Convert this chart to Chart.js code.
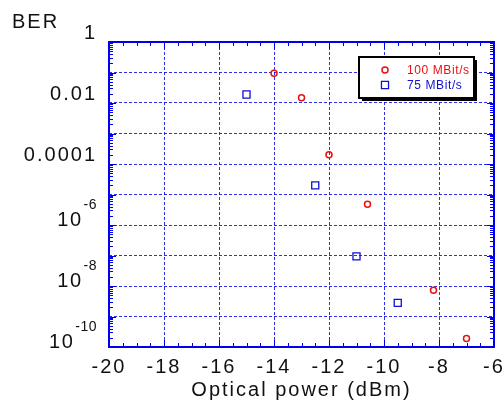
<!DOCTYPE html>
<html><head><meta charset="utf-8">
<script src="https://cdn.jsdelivr.net/npm/chart.js@4"></script>
<style>html,body{margin:0;padding:0;background:#fff}</style>
</head><body>
<canvas id="c" width="502" height="405"></canvas>
<script>
const seriesNames = ['100 MBit/s', '75 MBit/s'];
const power100 = [-14, -13, -12, -10.6, -8.2, -7];
const ber100 = [0.095, 0.015, 2.0e-4, 4.8e-6, 7.2e-9, 1.9e-10];
const power75 = [-15, -12.5, -11, -9.5];
const ber75 = [0.019, 2.0e-5, 9.4e-8, 2.8e-9];
const yDecades = [1, 0.1, 0.01, 1e-3, 1e-4, 1e-5, 1e-6, 1e-7, 1e-8, 1e-9, 1e-10];
const yTickLabels = {'0': '1', '-2': '0.01', '-4': '0.0001'};
const yPowerLabels = {'-6': ['10', '-6'], '-8': ['10', '-8'], '-10': ['10', '-10']};
const yAxisTitle = 'BER';
const xAxisTitle = 'Optical power (dBm)';

const FONT = "'Liberation Sans', Arial, sans-serif";
const AXIS_BLUE = '#0000ee';

const framePlugin = {
  id: 'frame',
  beforeDraw(chart) {
    chart.ctx.letterSpacing = '2px';
  },
  afterDraw(chart) {
    const {ctx, chartArea: a, scales: {x, y}} = chart;
    ctx.save();
    ctx.strokeStyle = AXIS_BLUE;
    ctx.lineWidth = 1;
    ctx.beginPath();
    for (let v = x.min; v <= x.max + 1e-9; v += 0.5) {
      const px = Math.round(x.getPixelForValue(v)) + 0.5;
      const major = Math.abs(v / 2 - Math.round(v / 2)) < 1e-9;
      const len = major ? 7 : 4;
      ctx.moveTo(px, a.bottom); ctx.lineTo(px, a.bottom - len);
      ctx.moveTo(px, a.top); ctx.lineTo(px, a.top + len);
    }
    for (let e = -10; e < 0; e++) {
      for (let m = 1; m < 10; m++) {
        const py = Math.round(y.getPixelForValue(m * Math.pow(10, e))) + 0.5;
        const len = m === 1 ? 7 : 4;
        ctx.moveTo(a.left, py); ctx.lineTo(a.left + len, py);
        ctx.moveTo(a.right, py); ctx.lineTo(a.right - len, py);
      }
    }
    ctx.stroke();
    ctx.lineWidth = 2;
    ctx.strokeRect(a.left, a.top, a.right - a.left, a.bottom - a.top);

    // power-of-ten tick labels with superscript exponents
    ctx.fillStyle = '#111';
    ctx.textAlign = 'right';
    ctx.textBaseline = 'alphabetic';
    y.ticks.forEach(t => {
      const k = String(Math.round(Math.log10(t.value)));
      const lab = yPowerLabels[k];
      if (!lab) return;
      const py = y.getPixelForValue(t.value);
      const rx = a.left - 12;
      ctx.letterSpacing = '0.5px';
      ctx.font = '14px ' + FONT;
      ctx.fillText(lab[1], rx, py - 16);
      const ew = ctx.measureText(lab[1]).width;
      ctx.letterSpacing = '1.5px';
      ctx.font = '20px ' + FONT;
      ctx.fillText(lab[0], rx - ew - 1, py + 1);
    });

    // "BER" label
    ctx.letterSpacing = '2px';
    ctx.fillStyle = '#111';
    ctx.font = '20px ' + FONT;
    ctx.textAlign = 'left';
    ctx.textBaseline = 'alphabetic';
    ctx.fillText(yAxisTitle, 12, 28);

    // legend box
    const lx = a.right - 135, ly = a.top + 15, lw = 115, lh = 41;
    ctx.fillStyle = '#000';
    ctx.fillRect(lx + 3, ly + 3, lw, lh);
    ctx.fillStyle = '#fff';
    ctx.fillRect(lx, ly, lw, lh);
    ctx.strokeStyle = '#000';
    ctx.lineWidth = 2;
    ctx.strokeRect(lx, ly, lw, lh);
    ctx.font = '12px ' + FONT;
    ctx.letterSpacing = '0.6px';
    ctx.textBaseline = 'middle';
    chart.data.datasets.forEach((ds, i) => {
      const cy = ly + 13 + i * 15;
      const cx = lx + 26;
      ctx.strokeStyle = ds.borderColor;
      ctx.lineWidth = ds.borderWidth;
      ctx.beginPath();
      if (ds.pointStyle === 'circle') {
        ctx.arc(cx, cy, ds.pointRadius, 0, Math.PI * 2);
      } else {
        const s = Math.SQRT1_2 * ds.pointRadius;
        ctx.rect(cx - s, cy - s, 2 * s, 2 * s);
      }
      ctx.stroke();
      ctx.fillStyle = ds.borderColor;
      ctx.fillText(ds.label, lx + 48, cy + 1);
    });
    ctx.restore();
  }
};

const gridColor = 'rgba(10,10,230,0.85)';

new Chart(document.getElementById('c'), {
  type: 'scatter',
  data: {
    datasets: [
      {
        label: seriesNames[0],
        data: power100.map((p, i) => ({x: p, y: ber100[i]})),
        pointStyle: 'circle', pointRadius: 3, borderWidth: 1.5,
        borderColor: '#e81010', backgroundColor: 'rgba(0,0,0,0)'
      },
      {
        label: seriesNames[1],
        data: power75.map((p, i) => ({x: p, y: ber75[i]})),
        pointStyle: 'rect', pointRadius: 5, borderWidth: 1.3,
        borderColor: '#1010d0', backgroundColor: 'rgba(0,0,0,0)'
      }
    ]
  },
  options: {
    responsive: false,
    animation: false,
    devicePixelRatio: 1,
    layout: {padding: {top: 42, right: 8, bottom: 0, left: 0}},
    plugins: {legend: {display: false}, tooltip: {enabled: false}, title: {display: false}},
    scales: {
      x: {
        type: 'linear', min: -20, max: -6,
        afterFit: s => { s.height = 58; s.paddingLeft = 0; s.paddingRight = 0; },
        ticks: {stepSize: 2, font: {family: FONT, size: 20}, color: '#111', padding: 8, maxRotation: 0, autoSkip: false},
        grid: {color: gridColor, lineWidth: 1, drawTicks: false},
        border: {display: false, dash: [3, 2]},
        title: {display: true, text: xAxisTitle, font: {family: FONT, size: 20}, color: '#111', padding: {top: 0, bottom: 3}}
      },
      y: {
        type: 'logarithmic', min: 1e-10, max: 1,
        afterBuildTicks: s => { s.ticks = yDecades.map(v => ({value: v})); },
        afterFit: s => { s.width = 109; s.paddingTop = 0; s.paddingBottom = 0; },
        ticks: {
          callback: v => { const k = String(Math.round(Math.log10(v))); return yTickLabels[k] !== undefined ? yTickLabels[k] : ''; },
          font: {family: FONT, size: 20}, color: '#111', padding: 12, labelOffset: -9, autoSkip: false
        },
        grid: {color: gridColor, lineWidth: 1, drawTicks: false},
        border: {display: false, dash: [3, 2]}
      }
    }
  },
  plugins: [framePlugin]
});
</script>
</body></html>
